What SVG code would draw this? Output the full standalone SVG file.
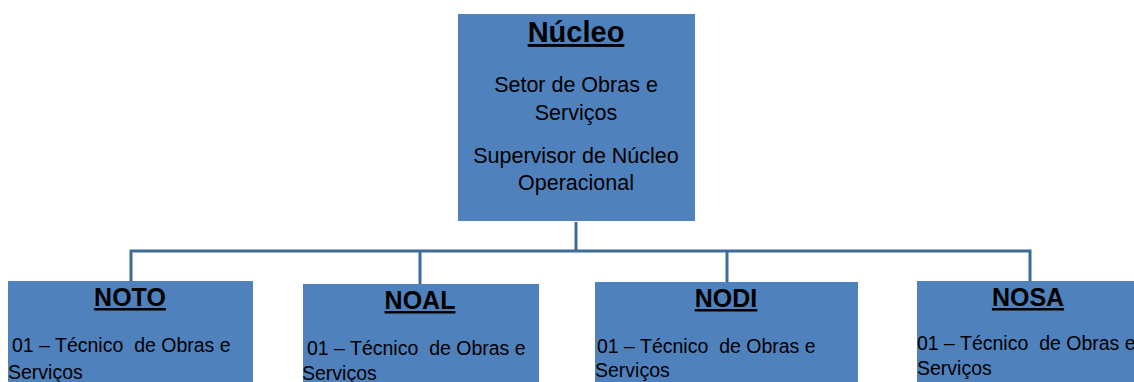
<svg xmlns="http://www.w3.org/2000/svg" width="1134" height="382" viewBox="0 0 1134 382">
<style>
.box{fill:#4F81BD;}
.title{font-family:"Liberation Sans",Arial,sans-serif;font-weight:bold;text-decoration:underline;fill:#000;text-anchor:middle;}
.t{font-family:"Liberation Sans",Arial,sans-serif;fill:#000;}
.c{text-anchor:middle;font-size:21.5px;}
.b{font-size:19.5px;}
.conn{fill:none;stroke:#3C6B9C;stroke-width:3;}
</style>
<rect width="1134" height="382" fill="#fff"/>
<g id="connectors">
<path class="conn" d="M576 222 V251"/>
<path class="conn" d="M131 281 V251 H1030 V281"/>
<path class="conn" d="M420 251 V284"/>
<path class="conn" d="M727 251 V282"/>
</g>
<g id="nucleo">
<rect class="box" x="458" y="14" width="237" height="207"/>
<text class="title" x="576" y="42" font-size="29">Núcleo</text>
<text class="t c" x="576" y="92">Setor de Obras e</text>
<text class="t c" x="576" y="120">Serviços</text>
<text class="t c" x="576" y="163">Supervisor de Núcleo</text>
<text class="t c" x="576" y="190">Operacional</text>
</g>
<g id="noto">
<rect class="box" x="8" y="281" width="245" height="101"/>
<text class="title" x="130" y="306" font-size="25">NOTO</text>
<text class="t b" x="12" y="352" xml:space="preserve">01 – Técnico  de Obras e</text>
<text class="t b" x="8" y="379">Serviços</text>
</g>
<g id="noal">
<rect class="box" x="303" y="284" width="236" height="98"/>
<text class="title" x="420" y="309" font-size="25">NOAL</text>
<text class="t b" x="307" y="355" xml:space="preserve">01 – Técnico  de Obras e</text>
<text class="t b" x="302" y="380">Serviços</text>
</g>
<g id="nodi">
<rect class="box" x="595" y="282" width="263" height="100"/>
<text class="title" x="726" y="307" font-size="25">NODI</text>
<text class="t b" x="597" y="353" xml:space="preserve">01 – Técnico  de Obras e</text>
<text class="t b" x="595" y="377">Serviços</text>
</g>
<g id="nosa">
<rect class="box" x="917" y="281" width="221" height="101"/>
<text class="title" x="1028" y="306" font-size="25">NOSA</text>
<text class="t b" x="917" y="350" xml:space="preserve">01 – Técnico  de Obras e</text>
<text class="t b" x="917" y="375">Serviços</text>
</g>
</svg>
